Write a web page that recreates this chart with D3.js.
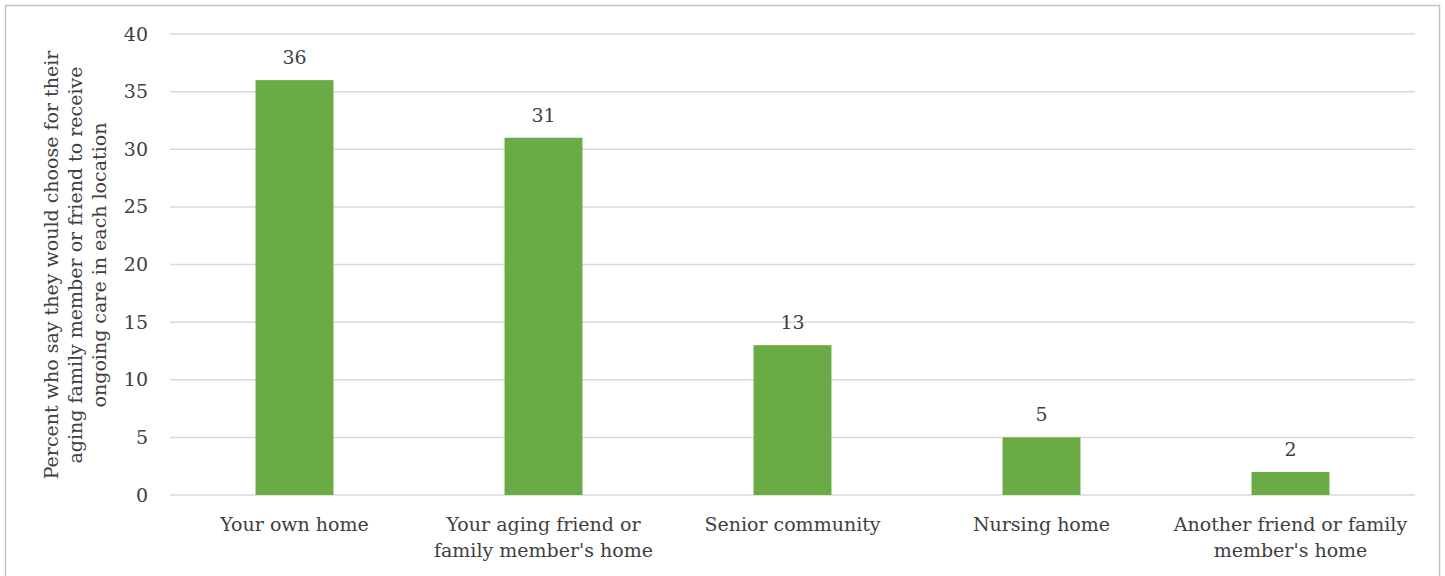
<!DOCTYPE html>
<html><head><meta charset="utf-8">
<script src="https://cdn.jsdelivr.net/npm/d3@7"></script>
<style>
html,body{margin:0;padding:0;background:#fff;}
svg text{font-family:"DejaVu Serif",serif;fill:#404040;}
</style></head>
<body><svg id="c" width="1445" height="576"></svg>
<script>
const categories = [["Your own home"],["Your aging friend or","family member's home"],["Senior community"],["Nursing home"],["Another friend or family","member's home"]];
const values = [36, 31, 13, 5, 2];
const yTicks = [0,5,10,15,20,25,30,35,40];
const yTitle = ["Percent who say they would choose for their","aging family member or friend to receive","ongoing care in each location"];

(function(){
const svg = d3.select("#c");
svg.append("rect").attr("x",5.5).attr("y",5.5).attr("width",1434).attr("height",580)
  .attr("fill","#fff").attr("stroke","#c9c2bb").attr("stroke-width",1.5);

const pL=170, pR=1415, pT=34, pB=495;
const x = d3.scaleBand().domain(d3.range(values.length)).range([pL,pR]).paddingInner(0.687).paddingOuter(0.3435);
const y = d3.scaleLinear().domain([0,40]).range([pB,pT]);

const fs = 19;
svg.append("g").selectAll("line").data(yTicks).join("line")
  .attr("x1",pL).attr("x2",pR).attr("y1",d=>y(d)).attr("y2",d=>y(d))
  .attr("stroke","#d9d9d9").attr("stroke-width",1.5);

const ya = svg.append("g").attr("transform",`translate(${pL},0)`)
  .call(d3.axisLeft(y).tickValues(yTicks).tickSize(0).tickPadding(22));
ya.select(".domain").remove();
ya.selectAll("text").style("font-family","DejaVu Serif, serif").style("font-size",fs+"px").attr("fill","#404040");

svg.append("g").selectAll("rect").data(values).join("rect")
  .attr("x",(d,i)=>x(i)).attr("width",x.bandwidth())
  .attr("y",d=>y(d)).attr("height",d=>y(0)-y(d)).attr("fill","#6aab45");

svg.append("g").selectAll("text").data(values).join("text")
  .attr("x",(d,i)=>x(i)+x.bandwidth()/2).attr("y",d=>y(d)-16)
  .attr("text-anchor","middle").style("font-size",fs+"px").text(d=>d);

const xl = svg.append("g").selectAll("text").data(categories).join("text")
  .attr("x",(d,i)=>x(i)+x.bandwidth()/2).attr("y",531)
  .attr("text-anchor","middle").style("font-size",fs+"px");
xl.selectAll("tspan").data(d=>d).join("tspan")
  .attr("x",function(){return this.parentNode.getAttribute("x");})
  .attr("dy",(d,i)=>i===0?0:26).text(d=>d);

const yt = svg.append("text").attr("transform","translate(58,265) rotate(-90)")
  .attr("text-anchor","middle").style("font-size",fs+"px");
yt.selectAll("tspan").data(yTitle).join("tspan").attr("x",0).attr("dy",(d,i)=>i===0?0:24).text(d=>d);
})();
</script></body></html>
